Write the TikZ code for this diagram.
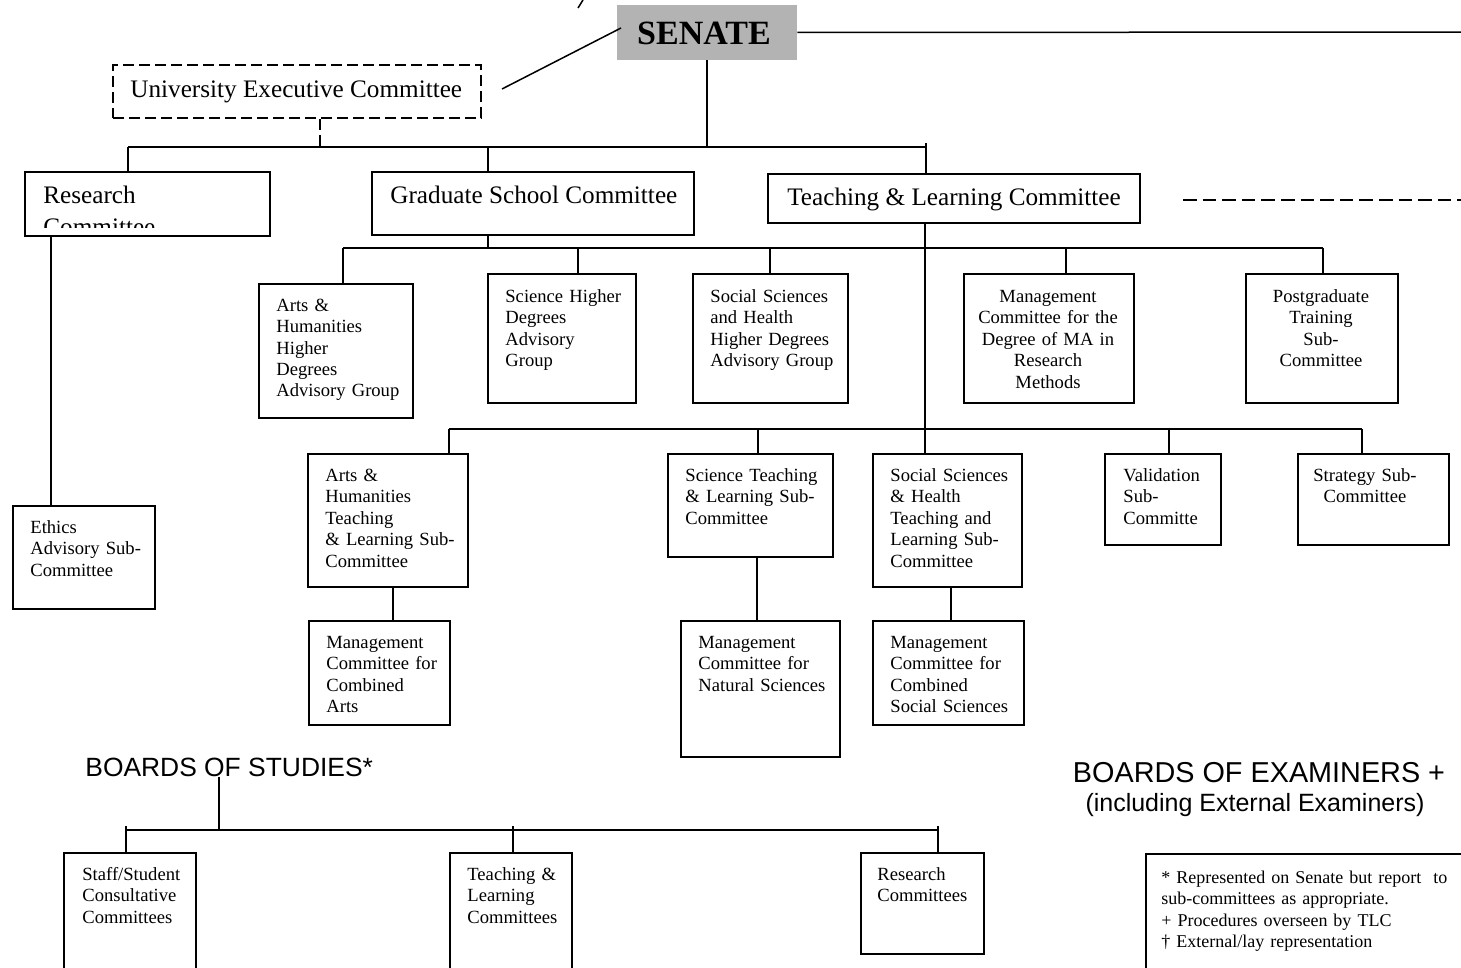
\documentclass[tikz,border=0pt]{standalone}
\usepackage{fontspec}
\setmainfont{Liberation Serif}
\newfontfamily\arialf{Liberation Sans}
\usetikzlibrary{fit,calc}
\definecolor{senategray}{RGB}{179,179,179}
\begin{document}
\begin{tikzpicture}[x=0.5pt,y=-0.5pt,
  box/.style={draw, line width=1pt, inner sep=0pt},
  dbox/.style={box, dash pattern=on 5.5pt off 2.5pt},
  conn/.style={line width=0.75pt},
  stxt/.style={inner sep=0pt, font=\fontsize{9.3}{10.75}\selectfont, text width=#1, align=left, anchor=base west},
  stxt/.default=90pt,
  ctxt/.style={inner sep=0pt, font=\fontsize{9.3}{10.75}\selectfont, text width=90pt, align=center, anchor=base},
  ltxt/.style={inner sep=0pt, font=\fontsize{12.6}{14.5}\selectfont},
  htxt/.style={inner sep=0pt, font=\arialf\fontsize{13.2}{15}\selectfont}]
\useasboundingbox (0,0) rectangle (1461,968);

% ---- top level
\node[draw=none, inner sep=0pt, fill=senategray, fit={(617,5)(797,60)}] (senate) {};
\node[inner sep=0pt, font=\fontsize{17}{20}\selectfont\bfseries, anchor=base] (senatet) at (704,45) {SENATE};

\node[dbox, fit={(113,65)(481,118)}] (uec) {};
\node[ltxt, anchor=base west] (uect) at (130,98) {University Executive Committee};

\node[box, fit={(25,172)(270,236)}] (rc) {};
\begin{scope}
  \clip (25,172) rectangle (270,228);
  \node[inner sep=0pt, font=\fontsize{12.6}{16}\selectfont, text width=100pt, align=left, anchor=base west] (rct) at (43,204) {Research\\Committee};
\end{scope}

\node[box, fit={(372,172)(694,235)}] (gsc) {};
\node[ltxt, anchor=base west] (gsct) at (390,204) {Graduate School Committee};

\node[box, fit={(768,174)(1140,223)}] (tlc) {};
\node[ltxt, anchor=base] (tlct) at (954,206) {Teaching \& Learning Committee};

% ---- level 2
\node[box, fit={(259,284)(413,418)}] (ahhd) {};
\node[stxt] (ahhdt) at (276,311) {Arts \&\\Humanities\\Higher\\Degrees\\Advisory Group};
\node[box, fit={(488,274)(636,403)}] (shd) {};
\node[stxt] (shdt) at (505,302) {Science Higher\\Degrees\\Advisory\\Group};
\node[box, fit={(693,274)(848,403)}] (sshd) {};
\node[stxt] (sshdt) at (710,302) {Social Sciences\\and Health\\Higher Degrees\\Advisory Group};
\node[box, fit={(964,274)(1134,403)}] (mma) {};
\node[ctxt] (mmat) at (1048,302) {Management\\Committee for the\\Degree of MA in\\Research\\Methods};
\node[box, fit={(1246,274)(1398,403)}] (pgt) {};
\node[ctxt] (pgtt) at (1321,302) {Postgraduate\\Training\\Sub-\\Committee};

% ---- level 3
\node[box, fit={(308,454)(468,587)}] (ahtl) {};
\node[stxt] (ahtlt) at (325,481) {Arts \&\\Humanities\\Teaching\\\& Learning Sub-\\Committee};
\node[box, fit={(668,454)(833,557)}] (stl) {};
\node[stxt] (stlt) at (685,481) {Science Teaching\\\& Learning Sub-\\Committee};
\node[box, fit={(873,454)(1022,587)}] (sstl) {};
\node[stxt] (sstlt) at (890,481) {Social Sciences\\\& Health\\Teaching and\\Learning Sub-\\Committee};
\node[box, fit={(1105,454)(1221,545)}] (val) {};
\node[stxt] (valt) at (1123,481) {Validation\\Sub-\\Committe};
\node[box, fit={(1298,454)(1449,545)}] (strat) {};
\node[ctxt] (stratt) at (1365,481) {Strategy Sub-\\Committee};

\node[box, fit={(13,506)(155,609)}] (eth) {};
\node[stxt] (etht) at (30,533) {Ethics\\Advisory Sub-\\Committee};

% ---- level 4
\node[box, fit={(309,621)(450,725)}] (mca) {};
\node[stxt] (mcat) at (326,648) {Management\\Committee for\\Combined\\Arts};
\node[box, fit={(681,621)(840,757)}] (mns) {};
\node[stxt] (mnst) at (698,648) {Management\\Committee for\\Natural Sciences};
\node[box, fit={(873,621)(1024,725)}] (mcss) {};
\node[stxt] (mcsst) at (890,648) {Management\\Committee for\\Combined\\Social Sciences};

% ---- boards
\node[htxt, anchor=base west] (bos) at (85,776) {BOARDS OF STUDIES*};
\node[inner sep=0pt, font=\arialf\fontsize{14.4}{16}\selectfont, anchor=base] (boe) at (1259,782) {BOARDS OF EXAMINERS +};
\node[inner sep=0pt, font=\arialf\fontsize{12.5}{14}\selectfont, anchor=base] (boe2) at (1255,811) {(including External Examiners)};

\node[box, fit={(64,853)(196,980)}] (ssc) {};
\node[stxt] (ssct) at (82,880) {Staff/Student\\Consultative\\Committees};
\node[box, fit={(450,853)(572,980)}] (tlcs) {};
\node[stxt] (tlcst) at (467,880) {Teaching \&\\Learning\\Committees};
\node[box, fit={(861,853)(984,954)}] (rcs) {};
\node[stxt] (rcst) at (877,880) {Research\\Committees};

\node[box, fit={(1146,854)(1480,990)}] (leg) {};
\node[stxt=170pt, font=\fontsize{9.0}{10.75}\selectfont] (legt) at (1161,883) {*~Represented on Senate but report~~to\\sub-committees as appropriate.\\+ Procedures overseen by TLC\\† External/lay representation};

% ---- connectors
\coordinate (mk1) at (583,0); \coordinate (mk2) at (578,8);
\draw[conn] (mk1) -- (mk2);
\coordinate (d1) at (502,89); \coordinate (d2) at (621,28);
\draw[conn] (d1) -- (d2);
\coordinate (sr) at (1470,32);
\draw[conn] (senate.east) -- (sr);
\coordinate (td1) at (1183,200); \coordinate (td2) at (1470,200);
\draw[conn, dash pattern=on 6.8pt off 3pt] (td1) -- (td2);

\coordinate (b1L) at (128,147); \coordinate (b1R) at (926,147);
\draw[conn] (b1L) -- (b1R);
\draw[conn] (senate.south) -- (senate.south |- b1L);
\draw[conn] (b1L) -- (b1L |- rc.north);
\coordinate (g1) at (488,147);
\draw[conn] (g1) -- (g1 |- gsc.north);
\coordinate (t1) at (926,143);
\draw[conn] (t1) -- (t1 |- tlc.north);
\coordinate (u1) at (320,147);
\draw[conn, dash pattern=on 5.5pt off 2.5pt] (u1 |- uec.south) -- (u1);

\coordinate (b2L) at (343,248); \coordinate (b2R) at (1323,248);
\draw[conn] (b2L) -- (b2R);
\draw[conn] (g1 |- gsc.south) -- (g1 |- b2L);
\draw[conn] (b2L) -- (b2L |- ahhd.north);
\coordinate (b2a) at (578,248); \draw[conn] (b2a) -- (b2a |- shd.north);
\coordinate (b2b) at (770,248); \draw[conn] (b2b) -- (b2b |- sshd.north);
\coordinate (b2c) at (1066,248); \draw[conn] (b2c) -- (b2c |- mma.north);
\draw[conn] (b2R) -- (b2R |- pgt.north);

\coordinate (tv) at (925,300);
\draw[conn] (tv |- tlc.south) -- (tv |- sstl.north);

\coordinate (b3L) at (449,429); \coordinate (b3R) at (1362,429);
\draw[conn] (b3L) -- (b3R);
\draw[conn] (b3L) -- (b3L |- ahtl.north);
\coordinate (b3a) at (758,429); \draw[conn] (b3a) -- (b3a |- stl.north);
\coordinate (b3b) at (1169,429); \draw[conn] (b3b) -- (b3b |- val.north);
\draw[conn] (b3R) -- (b3R |- strat.north);

\coordinate (rv) at (51,400);
\draw[conn] (rv |- rc.south) -- (rv |- eth.north);

\coordinate (l4a) at (393,600); \draw[conn] (l4a |- ahtl.south) -- (l4a |- mca.north);
\coordinate (l4b) at (757,600); \draw[conn] (l4b |- stl.south) -- (l4b |- mns.north);
\coordinate (l4c) at (951,600); \draw[conn] (l4c |- sstl.south) -- (l4c |- mcss.north);

\coordinate (bv) at (219,800); \coordinate (b4L) at (126,830); \coordinate (b4R) at (938,830);
\draw[conn] (bv |- bos.south) -- (bv |- b4L);
\draw[conn] (b4L) -- (b4R);
\coordinate (k1) at (126,826); \draw[conn] (k1) -- (k1 |- ssc.north);
\coordinate (k2) at (513,826); \draw[conn] (k2) -- (k2 |- tlcs.north);
\coordinate (k3) at (938,826); \draw[conn] (k3) -- (k3 |- rcs.north);
\end{tikzpicture}
\end{document}
